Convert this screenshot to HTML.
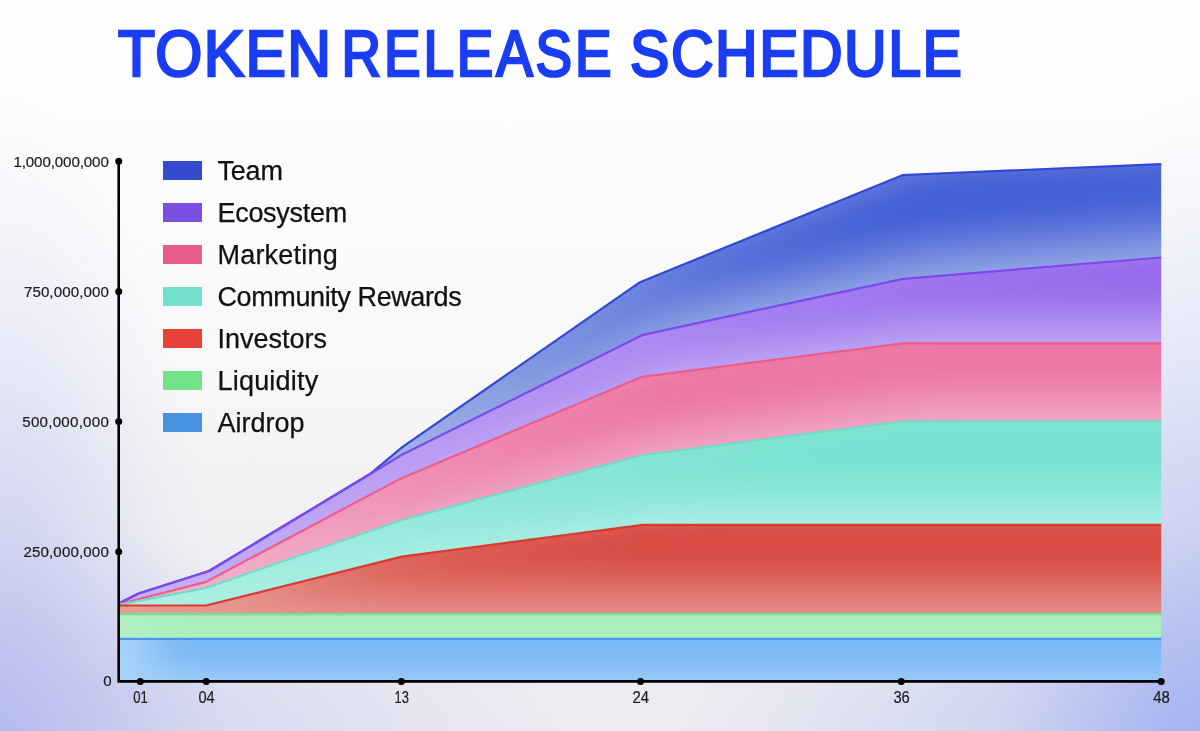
<!DOCTYPE html>
<html lang="en">
<head>
<meta charset="utf-8">
<title>Token Release Schedule</title>
<style>
  html, body { margin: 0; padding: 0; }
  body {
    width: 1200px; height: 731px; overflow: hidden; position: relative;
    font-family: "Liberation Sans", sans-serif;
    background:
      radial-gradient(ellipse 215px 640px at 0% 100%, rgba(168,175,238,0.6) 0%, rgba(168,175,238,0.48) 20%, rgba(168,175,238,0.34) 40%, rgba(168,175,238,0.2) 60%, rgba(168,175,238,0.08) 80%, rgba(168,175,238,0) 100%),
      radial-gradient(ellipse 560px 200px at 0% 100%, rgba(168,175,238,0.5) 0%, rgba(168,175,238,0.38) 25%, rgba(168,175,238,0.24) 50%, rgba(168,175,238,0.1) 75%, rgba(168,175,238,0) 100%),
      radial-gradient(ellipse 205px 640px at 100% 100%, rgba(152,168,240,0.62) 0%, rgba(152,168,240,0.5) 20%, rgba(152,168,240,0.35) 40%, rgba(152,168,240,0.21) 60%, rgba(152,168,240,0.08) 80%, rgba(152,168,240,0) 100%),
      radial-gradient(ellipse 520px 200px at 100% 100%, rgba(152,168,240,0.56) 0%, rgba(152,168,240,0.42) 25%, rgba(152,168,240,0.26) 50%, rgba(152,168,240,0.11) 75%, rgba(152,168,240,0) 100%),
      linear-gradient(180deg, #fefefe 0%, #fbfbfb 30%, #f8f8f9 50%, #f2f2f4 65%, #eeeef2 80%, #ebebf1 100%);
  }
  h1 { position: absolute; left: 0; top: 0; margin: 0; width: 1200px; height: 110px; font-size: 0; line-height: 0; }
  h1 svg text { font-size: 64.4px; font-weight: normal; fill: #1a3cf2; stroke: #1a3cf2; stroke-width: 2.7px; stroke-linejoin: miter; letter-spacing: 0; }
  ul.legend { position: absolute; left: 163px; top: 161px; margin: 0; padding: 0; list-style: none; }
  ul.legend li { height: 42px; display: block; position: relative; white-space: nowrap; }
  ul.legend .sw { position: absolute; left: 0; top: 0; width: 38.5px; height: 19.2px; }
  ul.legend .lb { position: absolute; left: 54.5px; top: -4.6px; font-size: 27px; line-height: 30px; color: #111; -webkit-text-stroke: 0.25px #111; }
  svg { position: absolute; left: 0; top: 0; }
  svg text.xl { font-size: 15.6px; }
  svg text { font-family: "Liberation Sans", sans-serif; font-size: 15.1px; fill: #1d1d1d; stroke: #1d1d1d; stroke-width: 0.2px; }
</style>
</head>
<body>
<svg width="1200" height="731" viewBox="0 0 1200 731">
<defs>
<filter id="ig-airdrop" filterUnits="userSpaceOnUse" x="0" y="0" width="1400" height="731" color-interpolation-filters="sRGB">
<feOffset in="SourceAlpha" dx="32" dy="-18" result="o"/>
<feGaussianBlur in="o" stdDeviation="25" result="b"/>
<feComponentTransfer in="b" result="inv"><feFuncA type="table" tableValues="1 0"/></feComponentTransfer>
<feFlood flood-color="#aad4f8" result="f"/>
<feComposite in="f" in2="inv" operator="in" result="g"/>
<feComposite in="g" in2="SourceAlpha" operator="in" result="gi"/>
<feMerge><feMergeNode in="SourceGraphic"/><feMergeNode in="gi"/></feMerge>
</filter>
<filter id="ig-liquidity" filterUnits="userSpaceOnUse" x="0" y="0" width="1400" height="731" color-interpolation-filters="sRGB">
<feOffset in="SourceAlpha" dx="20" dy="-25" result="o"/>
<feGaussianBlur in="o" stdDeviation="30" result="b"/>
<feComponentTransfer in="b" result="inv"><feFuncA type="table" tableValues="1 0"/></feComponentTransfer>
<feFlood flood-color="#b4f0c5" result="f"/>
<feComposite in="f" in2="inv" operator="in" result="g"/>
<feComposite in="g" in2="SourceAlpha" operator="in" result="gi"/>
<feMerge><feMergeNode in="SourceGraphic"/><feMergeNode in="gi"/></feMerge>
</filter>
<filter id="ig-investors" filterUnits="userSpaceOnUse" x="0" y="0" width="1400" height="731" color-interpolation-filters="sRGB">
<feOffset in="SourceAlpha" dx="20" dy="-25" result="o"/>
<feGaussianBlur in="o" stdDeviation="30" result="b"/>
<feComponentTransfer in="b" result="inv"><feFuncA type="table" tableValues="1 0"/></feComponentTransfer>
<feFlood flood-color="#e8a09b" result="f"/>
<feComposite in="f" in2="inv" operator="in" result="g"/>
<feComposite in="g" in2="SourceAlpha" operator="in" result="gi"/>
<feMerge><feMergeNode in="SourceGraphic"/><feMergeNode in="gi"/></feMerge>
</filter>
<filter id="ig-community" filterUnits="userSpaceOnUse" x="0" y="0" width="1400" height="731" color-interpolation-filters="sRGB">
<feOffset in="SourceAlpha" dx="20" dy="-25" result="o"/>
<feGaussianBlur in="o" stdDeviation="30" result="b"/>
<feComponentTransfer in="b" result="inv"><feFuncA type="table" tableValues="1 0"/></feComponentTransfer>
<feFlood flood-color="#b2f0e6" result="f"/>
<feComposite in="f" in2="inv" operator="in" result="g"/>
<feComposite in="g" in2="SourceAlpha" operator="in" result="gi"/>
<feMerge><feMergeNode in="SourceGraphic"/><feMergeNode in="gi"/></feMerge>
</filter>
<filter id="ig-marketing" filterUnits="userSpaceOnUse" x="0" y="0" width="1400" height="731" color-interpolation-filters="sRGB">
<feOffset in="SourceAlpha" dx="20" dy="-25" result="o"/>
<feGaussianBlur in="o" stdDeviation="30" result="b"/>
<feComponentTransfer in="b" result="inv"><feFuncA type="table" tableValues="1 0"/></feComponentTransfer>
<feFlood flood-color="#f2b2ca" result="f"/>
<feComposite in="f" in2="inv" operator="in" result="g"/>
<feComposite in="g" in2="SourceAlpha" operator="in" result="gi"/>
<feMerge><feMergeNode in="SourceGraphic"/><feMergeNode in="gi"/></feMerge>
</filter>
<filter id="ig-ecosystem" filterUnits="userSpaceOnUse" x="0" y="0" width="1400" height="731" color-interpolation-filters="sRGB">
<feOffset in="SourceAlpha" dx="20" dy="-25" result="o"/>
<feGaussianBlur in="o" stdDeviation="30" result="b"/>
<feComponentTransfer in="b" result="inv"><feFuncA type="table" tableValues="1 0"/></feComponentTransfer>
<feFlood flood-color="#c8b2f5" result="f"/>
<feComposite in="f" in2="inv" operator="in" result="g"/>
<feComposite in="g" in2="SourceAlpha" operator="in" result="gi"/>
<feMerge><feMergeNode in="SourceGraphic"/><feMergeNode in="gi"/></feMerge>
</filter>
<filter id="ig-team" filterUnits="userSpaceOnUse" x="0" y="0" width="1400" height="731" color-interpolation-filters="sRGB">
<feOffset in="SourceAlpha" dx="20" dy="-25" result="o"/>
<feGaussianBlur in="o" stdDeviation="30" result="b"/>
<feComponentTransfer in="b" result="inv"><feFuncA type="table" tableValues="1 0"/></feComponentTransfer>
<feFlood flood-color="#a3b4e6" result="f"/>
<feComposite in="f" in2="inv" operator="in" result="g"/>
<feComposite in="g" in2="SourceAlpha" operator="in" result="gi"/>
<feMerge><feMergeNode in="SourceGraphic"/><feMergeNode in="gi"/></feMerge>
</filter>
<clipPath id="plot"><rect x="118.7" y="100" width="1042.5" height="581.4"/></clipPath>
</defs>
<g id="areas">
<g clip-path="url(#plot)">
<path d="M118.7,638.8 L1161.2,638.8 L1331.2,638.8 L1331.2,681.4 L1161.2,681.4 L118.7,681.4 Z" fill="#5ea7f5" filter="url(#ig-airdrop)"/>
<path d="M118.7,614.2 L1161.2,614.2 L1331.2,614.2 L1331.2,638.8 L1161.2,638.8 L118.7,638.8 Z" fill="#8fe8a6" filter="url(#ig-liquidity)"/>
<path d="M118.7,605.5 L206.0,605.5 L402.0,556.6 L643.0,524.9 L903.0,524.9 L1161.2,524.9 L1331.2,524.9 L1331.2,614.2 L1161.2,614.2 L118.7,614.2 Z" fill="#d64239" filter="url(#ig-investors)"/>
<path d="M118.7,604.8 L206.0,588.0 L402.0,520.0 L641.0,455.4 L903.0,421.4 L1161.2,421.4 L1331.2,421.4 L1331.2,524.9 L1161.2,524.9 L903.0,524.9 L643.0,524.9 L402.0,556.6 L206.0,605.5 L118.7,605.5 Z" fill="#74e0d0" filter="url(#ig-community)"/>
<path d="M118.7,604.2 L206.0,581.9 L401.0,478.4 L642.0,376.8 L903.0,343.3 L1161.2,343.3 L1331.2,343.3 L1331.2,421.4 L1161.2,421.4 L903.0,421.4 L641.0,455.4 L402.0,520.0 L206.0,588.0 L118.7,604.8 Z" fill="#eb6a9b" filter="url(#ig-marketing)"/>
<path d="M118.7,603.5 L138.5,593.5 L209.0,571.0 L370.0,474.0 L402.8,454.2 L643.0,334.8 L903.0,278.8 L1161.2,257.5 L1331.2,243.5 L1331.2,343.3 L1161.2,343.3 L903.0,343.3 L642.0,376.8 L401.0,478.4 L206.0,581.9 L118.7,604.2 Z" fill="#8d5feb" filter="url(#ig-ecosystem)"/>
<path d="M118.7,603.5 L138.5,593.5 L209.0,571.0 L370.0,474.0 L402.6,446.8 L640.0,282.2 L903.0,175.0 L1161.2,164.2 L1331.2,157.1 L1331.2,243.5 L1161.2,257.5 L903.0,278.8 L643.0,334.8 L402.8,454.2 L370.0,474.0 L209.0,571.0 L138.5,593.5 L118.7,603.5 Z" fill="#3e5ad6" filter="url(#ig-team)"/>
</g>
<g id="strokes">
<path d="M118.7,603.5 L138.5,593.5 L209.0,571.0 L370.0,474.0 L402.6,446.8 L640.0,282.2 L903.0,175.0 L1161.2,164.2" fill="none" stroke="#3048d2" stroke-width="2.2" stroke-linejoin="round"/>
<path d="M118.7,603.5 L138.5,593.5 L209.0,571.0 L370.0,474.0 L402.8,454.2 L643.0,334.8 L903.0,278.8 L1161.2,257.5" fill="none" stroke="#7d49ef" stroke-width="2.2" stroke-linejoin="round"/>
<path d="M118.7,604.2 L206.0,581.9 L401.0,478.4 L642.0,376.8 L903.0,343.3 L1161.2,343.3" fill="none" stroke="#ee5c8c" stroke-width="2.2" stroke-linejoin="round"/>
<path d="M118.7,604.8 L206.0,588.0 L402.0,520.0 L641.0,455.4 L903.0,421.4 L1161.2,421.4" fill="none" stroke="#6fdcc9" stroke-width="2.2" stroke-linejoin="round"/>
<path d="M118.7,605.5 L206.0,605.5 L402.0,556.6 L643.0,524.9 L903.0,524.9 L1161.2,524.9" fill="none" stroke="#dd382e" stroke-width="2.2" stroke-linejoin="round"/>
<path d="M118.7,614.2 L1161.2,614.2" fill="none" stroke="#76e08e" stroke-width="2.2" stroke-linejoin="round"/>
<path d="M118.7,638.8 L1161.2,638.8" fill="none" stroke="#4a97ec" stroke-width="2.2" stroke-linejoin="round"/>
</g>
</g>
<g id="axes">
<path d="M118.7,161.3 V681.4 H1161.2" fill="none" stroke="#000" stroke-width="2.6" stroke-linejoin="miter"/>
<circle cx="118.7" cy="161.3" r="3.5" fill="#000"/>
<circle cx="118.7" cy="291.5" r="3.5" fill="#000"/>
<circle cx="118.7" cy="421.5" r="3.5" fill="#000"/>
<circle cx="118.7" cy="551.8" r="3.5" fill="#000"/>
<circle cx="140.3" cy="681.4" r="3.5" fill="#000"/>
<circle cx="206.2" cy="681.4" r="3.5" fill="#000"/>
<circle cx="401.4" cy="681.4" r="3.5" fill="#000"/>
<circle cx="640.5" cy="681.4" r="3.5" fill="#000"/>
<circle cx="901.3" cy="681.4" r="3.5" fill="#000"/>
<circle cx="1161.2" cy="681.4" r="3.5" fill="#000"/>
</g>
<g id="labels">
<text x="13.4" y="166.6" textLength="95.4" lengthAdjust="spacing">1,000,000,000</text>
<text x="23.9" y="296.8" textLength="84.9" lengthAdjust="spacing">750,000,000</text>
<text x="22.3" y="426.8" textLength="86.5" lengthAdjust="spacing">500,000,000</text>
<text x="23.4" y="557.1" textLength="85.4" lengthAdjust="spacing">250,000,000</text>
<text x="103.2" y="685.8">0</text>
<text class="xl" x="133.3" y="702.8" textLength="14.6" lengthAdjust="spacingAndGlyphs">01</text>
<text class="xl" x="198.4" y="702.8" textLength="16.2" lengthAdjust="spacingAndGlyphs">04</text>
<text class="xl" x="394.5" y="702.8" textLength="14.4" lengthAdjust="spacingAndGlyphs">13</text>
<text class="xl" x="632.5" y="702.8" textLength="16.6" lengthAdjust="spacingAndGlyphs">24</text>
<text class="xl" x="893.4" y="702.8" textLength="16.4" lengthAdjust="spacingAndGlyphs">36</text>
<text class="xl" x="1153.2" y="702.8" textLength="16.6" lengthAdjust="spacingAndGlyphs">48</text>
</g>
</svg>
<h1><svg width="1200" height="110" viewBox="0 0 1200 110" role="img" aria-label="TOKEN RELEASE SCHEDULE"><text y="75.6" transform="scale(0.94,1)" x="125.5" textLength="226.6" lengthAdjust="spacing">TOKEN</text> <text y="75.6" transform="scale(0.85,1)" x="401.8" textLength="317.6" lengthAdjust="spacing">RELEASE</text> <text y="75.6" transform="scale(0.915,1)" x="688.6" textLength="362.6" lengthAdjust="spacing">SCHEDULE</text></svg></h1>
<ul class="legend">
<li><span class="sw" style="background:#344bd0"></span><span class="lb" style="letter-spacing:-0.2px">Team</span></li>
<li><span class="sw" style="background:#7b4fe3"></span><span class="lb" style="letter-spacing:-0.3px">Ecosystem</span></li>
<li><span class="sw" style="background:#e75c8b"></span><span class="lb" style="letter-spacing:0.2px">Marketing</span></li>
<li><span class="sw" style="background:#72e0cd"></span><span class="lb" style="letter-spacing:-0.4px">Community Rewards</span></li>
<li><span class="sw" style="background:#e8413a"></span><span class="lb" style="letter-spacing:0.0px">Investors</span></li>
<li><span class="sw" style="background:#72e389"></span><span class="lb" style="letter-spacing:0.2px">Liquidity</span></li>
<li><span class="sw" style="background:#4691e0"></span><span class="lb" style="letter-spacing:0.0px">Airdrop</span></li>
</ul>
</body>
</html>
